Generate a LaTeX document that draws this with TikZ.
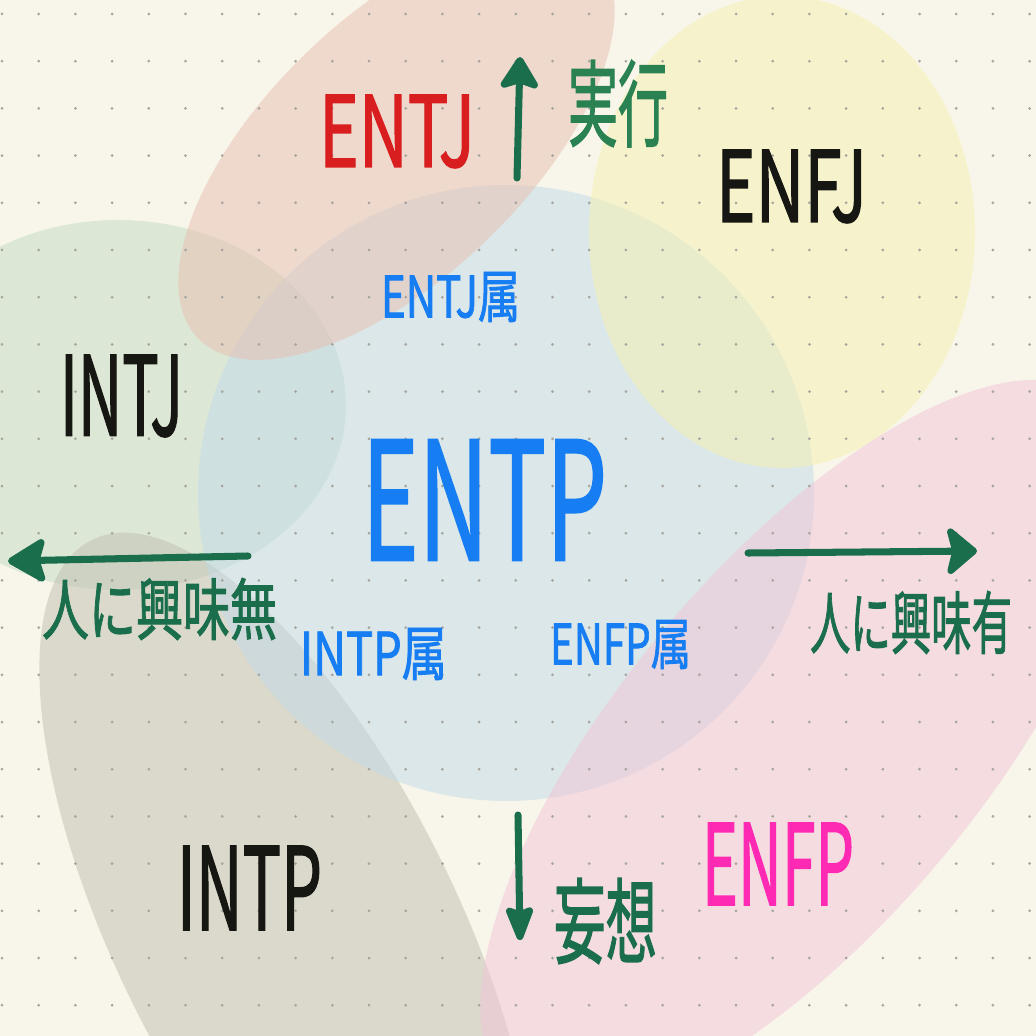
\documentclass[tikz,border=0pt]{standalone}
\usepackage{fontspec}
\usepackage{graphicx}
\setmainfont{Noto Sans CJK JP}
\newfontfamily\handfont{Noto Sans CJK JP}[FakeBold=1.6]
\usetikzlibrary{arrows.meta}
\definecolor{paper}{HTML}{F8F6EA}
\definecolor{griddot}{HTML}{A6A49E}
\definecolor{pengreen}{HTML}{1A6E4C}
\definecolor{pengreenb}{HTML}{2A8252}
\definecolor{penblue}{HTML}{167EF2}
\definecolor{penred}{HTML}{D81E1E}
\definecolor{penpink}{HTML}{FF2AB4}
\definecolor{penblack}{HTML}{161612}
\definecolor{tintsalmon}{HTML}{E8BEB0}
\definecolor{tintyellow}{HTML}{F6F2B0}
\definecolor{tintgreen}{HTML}{C4DAC4}
\definecolor{tintblue}{HTML}{C0DAE8}
\definecolor{tintpink}{HTML}{F2C4D8}
\definecolor{tintstone}{HTML}{C0BEB0}
\newlength\px
\setlength\px{0.025cm}
% text squeezed into the box that the hand lettering fills
\newcommand\inkbox[3]{\resizebox*{#1\px}{#2\px}{#3}}

\begin{document}
\begin{tikzpicture}[
    x=0.025cm, y=-0.025cm,
    blob/.style={fill opacity=0.5},
    lbl/.style={inner sep=0pt, outer sep=0pt, font=\handfont},
    pen/.style={draw=pengreen, line width=5pt, line cap=round},
  ]
  \useasboundingbox (0,0) rectangle (1036,1036);
  \fill[paper] (0,0) rectangle (1036,1036);

  \begin{scope}
    \clip (0,0) rectangle (1036,1036);
    % ================= the six types as tinted regions
    \fill[blob, tintgreen] (118,405) ellipse [x radius=228, y radius=185];
    \fill[blob, tintstone, rotate around={-63.5:(287,932)}]
      (287,932) ellipse [x radius=438, y radius=170];
    \fill[blob, tintblue] (506,493) circle (308);
    \fill[blob, tintyellow] (782,232) ellipse [x radius=193, y radius=236];
    \fill[blob, tintsalmon, rotate around={44:(396.5,146.5)}]
      (396.5,146.5) ellipse [x radius=276, y radius=130];
    \fill[blob, tintpink, rotate around={50:(802,745)}]
      (802,745) ellipse [x radius=452, y radius=180];
    % dotted paper
    \foreach \i in {0,...,28} {
      \foreach \j in {0,...,21} {
        \fill[griddot] (2+36.7*\i, 14+47.2*\j) circle (1.5);
      }
    }
  \end{scope}

  % ================= type names
  \node[lbl, text=penblue]  (entp) at (484.5,500) {\inkbox{245}{120}{ENTP}};
  \node[lbl, text=penred]   (entj) at (397,131.5) {\inkbox{156}{73}{ENTJ}};
  \node[lbl, text=penblack] (enfj) at (791.5,186.5) {\inkbox{151}{73}{ENFJ}};
  \node[lbl, text=penblack] (intj) at (121.5,396) {\inkbox{123}{82}{INTJ}};
  \node[lbl, text=penblack] (intp) at (249.5,888) {\inkbox{145}{84}{INTP}};
  \node[lbl, text=penpink]  (enfp) at (778,864) {\inkbox{152}{82}{ENFP}};
  % sub-types inside the circle
  \node[lbl, text=penblue] (entjsub) at (450.5,297) {\inkbox{139}{50}{ENTJ属}};
  \node[lbl, text=penblue] (intpsub) at (373.5,654) {\inkbox{147}{52}{INTP属}};
  \node[lbl, text=penblue] (enfpsub) at (620.5,644.5) {\inkbox{141}{49}{ENFP属}};

  % ================= axes
  \coordinate (upfoot) at (517,178);
  \coordinate (uptip) at (520,57);
  \draw[pen, -{Stealth[round, length=26pt, width=32pt, inset=5pt]}] (upfoot) -- (uptip);
  \node[lbl, text=pengreenb] (doing) at (618,103.5) {\inkbox{100}{87}{実行}};

  \coordinate (leftfoot) at (248,556);
  \coordinate (lefttip) at (8,561);
  \draw[pen, -{Stealth[round, length=30pt, width=35pt, inset=5pt]}] (leftfoot) -- (lefttip);
  \node[lbl, text=pengreen] (nointerest) at (159.5,609) {\inkbox{235}{62}{人に興味無}};

  \coordinate (rightfoot) at (748,553);
  \coordinate (righttip) at (977,551);
  \draw[pen, -{Stealth[round, length=24pt, width=40pt, inset=5pt]}] (rightfoot) -- (righttip);
  \node[lbl, text=pengreen] (interest) at (911,622.5) {\inkbox{202}{63}{人に興味有}};

  \coordinate (downfoot) at (518,815);
  \coordinate (downtip) at (520,940);
  \draw[pen, -{Stealth[round, length=29pt, width=22pt, inset=4pt]}] (downfoot) -- (downtip);
  \node[lbl, text=pengreen] (fancy) at (605.5,921) {\inkbox{103}{86}{妄想}};
\end{tikzpicture}
\end{document}
